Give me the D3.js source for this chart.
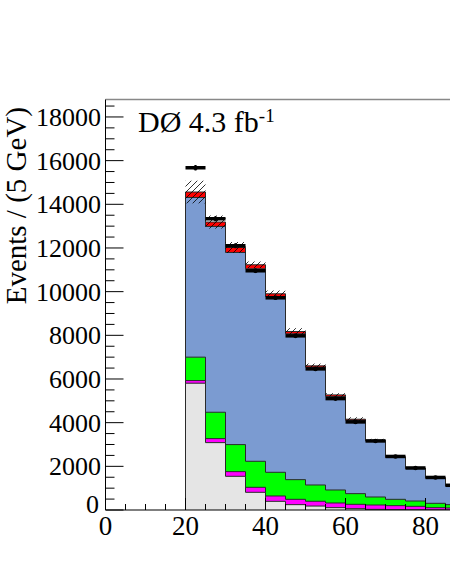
<!DOCTYPE html>
<html>
<head>
<meta charset="utf-8">
<script src="https://cdn.jsdelivr.net/npm/d3@7"></script>
<style>
  body { margin: 0; background: #fff; }
  svg { display: block; font-family: "Liberation Serif", "Times New Roman", serif; }
</style>
</head>
<body>
<svg id="chart" width="450" height="582"></svg>
<script>
// bins of 5 GeV starting at 20
var binLow = [20, 25, 30, 35, 40, 45, 50, 55, 60, 65, 70, 75, 80, 85];
var binWidth = 5;

// stacked backgrounds, bottom to top
var grayVals    = [5807, 3086, 1543, 810, 397, 245, 180, 107, 61, 30, 15, 10, 5, 3];
var magentaVals = [121, 184, 214, 229, 245, 244, 220, 214, 199, 199, 184, 158, 102, 89];
var greenVals   = [1072, 1207, 1238, 1192, 1085, 901, 746, 596, 489, 367, 290, 244, 199, 153];
var blueVals    = [7313, 8510, 8800, 8816, 8051, 6678, 5395, 4277, 3363, 2564, 1921, 1483, 1154, 850];
var redVals     = [250, 201, 229, 184, 123, 105, 60, 78, 46, 40, 30, 25, 20, 15];

// total uncertainty (hatched band) and data
var totalUnc = [518, 300, 250, 150, 150, 155, 105, 78, 90, 60, 45, 35, 25, 20];
var dataVals = [15677, 13340, 12102, 10956, 9718, 7976, 6463, 5102, 4034, 3163, 2452, 1925, 1490, 1132];

var yTicks = [0, 2000, 4000, 6000, 8000, 10000, 12000, 14000, 16000, 18000];
var xTicks = [0, 20, 40, 60, 80];

var svg = d3.select("#chart");

var padL = 105.5, padT = 99.5, padB = 510, padR = 450;

var x = d3.scaleLinear().domain([0, 100]).range([padL, padL + 400]);
var y = d3.scaleLinear().domain([0, 18800]).range([padB, padT]);

var defs = svg.append("defs");
defs.append("clipPath").attr("id", "plotclip")
  .append("rect")
  .attr("x", padL).attr("y", padT)
  .attr("width", padR - padL).attr("height", padB - padT);

var pat = defs.append("pattern")
  .attr("id", "hatch")
  .attr("patternUnits", "userSpaceOnUse")
  .attr("width", 6).attr("height", 6);
pat.append("path")
  .attr("d", "M0,6 L6,0 M-1.5,1.5 L1.5,-1.5 M4.5,7.5 L7.5,4.5")
  .attr("stroke", "#000").attr("stroke-width", 0.8);

var plot = svg.append("g").attr("clip-path", "url(#plotclip)");

// cumulative sums for stacking
var layers = [
  {vals: grayVals, color: "#e5e5e5"},
  {vals: magentaVals, color: "#ff00ff"},
  {vals: greenVals, color: "#00ff00"},
  {vals: blueVals, color: "#7b9bd1"},
  {vals: redVals, color: "#ff0000"}
];
var running = binLow.map(function () { return 0; });
layers.forEach(function (l) {
  l.cum = l.vals.map(function (v, i) { running[i] += v; return running[i]; });
});

function stepPoints(cum) {
  var pts = binLow.map(function (b, i) { return {x: b, v: cum[i]}; });
  pts.push({x: binLow[binLow.length - 1] + binWidth, v: cum[cum.length - 1]});
  return pts;
}

var area = d3.area()
  .curve(d3.curveStepAfter)
  .x(function (d) { return x(d.x); })
  .y0(y(0))
  .y1(function (d) { return y(d.v); });

var outline = d3.line()
  .curve(d3.curveStepAfter)
  .x(function (d) { return x(d.x); })
  .y(function (d) { return y(d.v); });

// draw largest cumulative first
layers.slice().reverse().forEach(function (l) {
  var pts = stepPoints(l.cum);
  plot.append("path")
    .attr("d", area(pts))
    .attr("fill", l.color);
  var full = [{x: pts[0].x, v: 0}].concat(pts);
  plot.append("path")
    .attr("d", outline(full))
    .attr("fill", "none")
    .attr("stroke", "#2a2a2a")
    .attr("stroke-width", 1);
});

// hatched uncertainty band around total
var totals = layers[layers.length - 1].cum;
plot.selectAll(".unc")
  .data(binLow)
  .enter().append("rect")
  .attr("x", function (d) { return x(d); })
  .attr("width", function (d) { return x(d + binWidth) - x(d); })
  .attr("y", function (d, i) { return y(totals[i] + totalUnc[i]); })
  .attr("height", function (d, i) { return y(totals[i] - totalUnc[i]) - y(totals[i] + totalUnc[i]); })
  .attr("fill", "url(#hatch)");

// data points
var pts = plot.selectAll(".dat").data(binLow).enter().append("g");
pts.append("line")
  .attr("x1", function (d) { return x(d); })
  .attr("x2", function (d) { return x(d + binWidth); })
  .attr("y1", function (d, i) { return y(dataVals[i]); })
  .attr("y2", function (d, i) { return y(dataVals[i]); })
  .attr("stroke", "#000").attr("stroke-width", 3.5);
pts.append("line")
  .attr("x1", function (d) { return x(d + binWidth / 2); })
  .attr("x2", function (d) { return x(d + binWidth / 2); })
  .attr("y1", function (d, i) { return y(dataVals[i] + Math.sqrt(dataVals[i])); })
  .attr("y2", function (d, i) { return y(dataVals[i] - Math.sqrt(dataVals[i])); })
  .attr("stroke", "#000").attr("stroke-width", 2);
pts.append("circle")
  .attr("cx", function (d) { return x(d + binWidth / 2); })
  .attr("cy", function (d, i) { return y(dataVals[i]); })
  .attr("r", 2.3)
  .attr("fill", "#000");

// frame
svg.append("line")
  .attr("x1", padL).attr("x2", padR).attr("y1", padT).attr("y2", padT)
  .attr("stroke", "#888").attr("stroke-width", 1.5);

// y axis with ticks on the inside
var yAxis = svg.append("g");
yAxis.append("line")
  .attr("x1", padL).attr("x2", padL).attr("y1", padT).attr("y2", padB)
  .attr("stroke", "#000").attr("stroke-width", 1);
var yMinor = d3.range(0, 18801, 500);
yAxis.selectAll(".ymt").data(yMinor).enter().append("line")
  .attr("x1", padL)
  .attr("x2", function (d) { return padL + (d % 2000 === 0 ? 18 : 9); })
  .attr("y1", function (d) { return y(d); })
  .attr("y2", function (d) { return y(d); })
  .attr("stroke", "#000").attr("stroke-width", 1);
yAxis.selectAll(".ylab").data(yTicks).enter().append("text")
  .attr("x", function (d) { return d === 0 ? 99 : 101; })
  .attr("y", function (d) { return y(d) + (d === 0 ? 3 : 9); })
  .attr("text-anchor", "end")
  .attr("font-size", 26)
  .text(function (d) { return d; });

// x axis with ticks on the inside
var xAxis = svg.append("g");
xAxis.append("line")
  .attr("x1", padL).attr("x2", padR).attr("y1", padB).attr("y2", padB)
  .attr("stroke", "#000").attr("stroke-width", 1.2);
var xMinor = d3.range(0, 90, 5);
xAxis.selectAll(".xmt").data(xMinor).enter().append("line")
  .attr("x1", function (d) { return x(d); })
  .attr("x2", function (d) { return x(d); })
  .attr("y1", padB)
  .attr("y2", function (d) { return padB - (d % 20 === 0 ? 12 : 6); })
  .attr("stroke", "#000").attr("stroke-width", 1);
xAxis.selectAll(".xlab").data(xTicks).enter().append("text")
  .attr("x", function (d) { return x(d); })
  .attr("y", 535)
  .attr("text-anchor", "middle")
  .attr("font-size", 27)
  .text(function (d) { return d; });

// y title
svg.append("text")
  .attr("transform", "translate(26,107) rotate(-90)")
  .attr("text-anchor", "end")
  .attr("font-size", 29)
  .text("Events / (5 GeV)");

// experiment label
var lab = svg.append("text")
  .attr("x", 138).attr("y", 131.5)
  .attr("font-size", 30);
lab.append("tspan").text("DØ 4.3 fb");
lab.append("tspan").attr("font-size", 19).attr("dy", -10).text("-1");
</script>
</body>
</html>
